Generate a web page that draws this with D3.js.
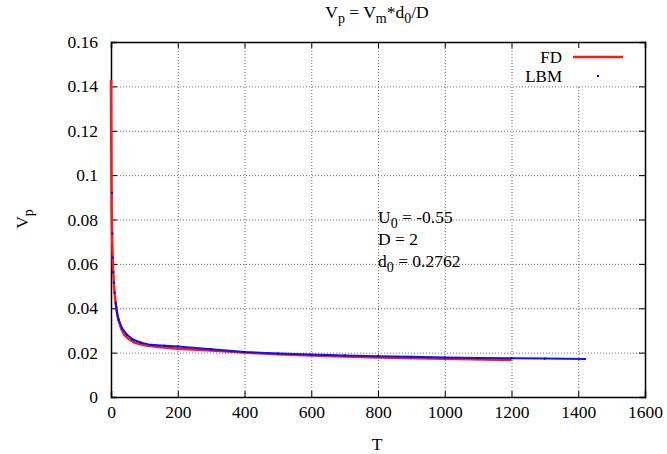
<!DOCTYPE html>
<html>
<head>
<meta charset="utf-8">
<script src="https://cdn.jsdelivr.net/npm/d3@7"></script>
<style>
  body { margin: 0; background: #fff; }
  svg { font-family: "Liberation Serif", "Times New Roman", serif; }
  .tick text { font-family: "Liberation Serif", "Times New Roman", serif; font-size: 17.5px; fill: #000; }
  .grid line { stroke: #666; stroke-dasharray: 1,2; }
  .grid .domain { display: none; }
</style>
</head>
<body>
<div id="chart"></div>
<script>
// FD (finite difference) series
const fdT = [0, 1, 2, 4, 6, 10, 15, 20, 30, 40, 50, 70, 100, 150, 200, 300, 400, 500, 600, 800, 1000, 1200];
const fdV = [0.143, 0.11, 0.085, 0.068, 0.058, 0.048, 0.041, 0.036, 0.031, 0.028, 0.0265, 0.0245, 0.0233, 0.0224, 0.0218, 0.021, 0.02, 0.0193, 0.0187, 0.0178, 0.0172, 0.0167];

// LBM series
const lbmT = [3, 4, 5, 7, 9, 11, 14, 18, 23, 33, 48, 67, 90, 118, 160, 200, 300, 400, 500, 600, 700, 800, 900, 1000, 1100, 1200, 1300, 1420];
const lbmV = [0.092, 0.0737, 0.0628, 0.0562, 0.0515, 0.047, 0.0425, 0.038, 0.0348, 0.031, 0.028, 0.0258, 0.0245, 0.0235, 0.0231, 0.0228, 0.0215, 0.0203, 0.0196, 0.0191, 0.0187, 0.0184, 0.0181, 0.0178, 0.0176, 0.0175, 0.0173, 0.0171];

const xTicks = [0, 200, 400, 600, 800, 1000, 1200, 1400, 1600];
const yTicks = [0, 0.02, 0.04, 0.06, 0.08, 0.1, 0.12, 0.14, 0.16];

const W = 667, H = 454;
const mLeft = 111, mRight = 645, mTop = 42, mBottom = 397;
const w = mRight - mLeft, h = mBottom - mTop;
const fs = 17.5, subFs = 14;

const svg = d3.select('#chart').append('svg')
  .attr('width', W)
  .attr('height', H);

const x = d3.scaleLinear().domain([0, 1600]).range([0, w]);
const y = d3.scaleLinear().domain([0, 0.16]).range([h, 0]);

const g = svg.append('g').attr('transform', 'translate(' + mLeft + ',' + mTop + ')');

// grid
g.append('g').attr('class', 'grid')
  .attr('transform', 'translate(0,' + h + ')')
  .call(d3.axisBottom(x).tickValues(xTicks.slice(1, -1)).tickSize(-h).tickFormat(''));
g.append('g').attr('class', 'grid')
  .call(d3.axisLeft(y).tickValues(yTicks.slice(1, -1)).tickSize(-w).tickFormat(''));

// legend background hides grid
g.append('rect')
  .attr('x', 525 - mLeft).attr('y', 1)
  .attr('width', mRight - 525 - 1).attr('height', 84 - mTop)
  .attr('fill', '#fff');

// axes, ticks pointing inwards, mirrored
const fmtY = d => d === 0 ? '0' : String(+d.toFixed(2));
g.append('g').attr('class', 'axis').attr('transform', 'translate(0,' + h + ')')
  .call(d3.axisBottom(x).tickValues(xTicks).tickSize(-6).tickPadding(9).tickFormat(d3.format('d')));
g.append('g').attr('class', 'axis')
  .call(d3.axisLeft(y).tickValues(yTicks).tickSize(-6).tickPadding(13).tickFormat(fmtY));
g.append('g').attr('class', 'axis')
  .call(d3.axisTop(x).tickValues(xTicks).tickSize(-6).tickFormat(''));
g.append('g').attr('class', 'axis').attr('transform', 'translate(' + w + ',0)')
  .call(d3.axisRight(y).tickValues(yTicks).tickSize(-6).tickFormat(''));

g.selectAll('.axis .domain').attr('stroke', '#000').attr('stroke-width', 1.5);
g.selectAll('.axis .tick line').attr('stroke', '#000');

// curves
const fd = fdT.map((t, i) => ({t: t, v: fdV[i]}));
const lbm = lbmT.map((t, i) => ({t: t, v: lbmV[i]}));

const line = d3.line().x(d => x(d.t)).y(d => y(d.v));

g.append('path')
  .datum(fd)
  .attr('d', line)
  .attr('fill', 'none')
  .attr('stroke', '#ff1a1a')
  .attr('stroke-width', 2.5)
  .attr('stroke-linejoin', 'round');

g.append('path')
  .datum(lbm.filter(d => d.t >= 14))
  .attr('d', line)
  .attr('fill', 'none')
  .attr('stroke', '#1010ff')
  .attr('stroke-width', 2);

g.selectAll('.dot')
  .data(lbm)
  .enter()
  .append('rect')
  .attr('class', 'dot')
  .attr('x', d => x(d.t) - 1)
  .attr('y', d => y(d.v) - 1)
  .attr('width', 2)
  .attr('height', 2)
  .attr('fill', '#0000ff');

// legend
svg.append('text').attr('x', 562).attr('y', 63).attr('text-anchor', 'end')
  .attr('font-size', 17).text('FD');
svg.append('line').attr('x1', 573).attr('x2', 623).attr('y1', 57).attr('y2', 57)
  .attr('stroke', '#ff1a1a').attr('stroke-width', 2.5);
svg.append('text').attr('x', 562).attr('y', 82).attr('text-anchor', 'end')
  .attr('font-size', 17).text('LBM');
svg.append('rect').attr('x', 597).attr('y', 75).attr('width', 2).attr('height', 2)
  .attr('fill', '#0000ff');

// text with subscripts: parts alternate normal, sub, normal, ...
function richText(sel, parts) {
  parts.forEach(function(p, i) {
    const sub = i % 2 === 1;
    const ts = sel.append('tspan').text(p);
    if (sub) ts.attr('font-size', subFs).attr('dy', 4.5);
    else if (i > 0) ts.attr('dy', -4.5);
  });
  return sel;
}

// title
richText(svg.append('text').attr('x', 377).attr('y', 18)
  .attr('text-anchor', 'middle').attr('font-size', fs),
  ['V', 'p', ' = V', 'm', '*d', '0', '/D']);

// axis labels
svg.append('text').attr('x', 377).attr('y', 450).attr('text-anchor', 'middle')
  .attr('font-size', fs).text('T');
richText(svg.append('text').attr('transform', 'translate(28,219) rotate(-90)')
  .attr('text-anchor', 'middle').attr('font-size', fs),
  ['V', 'p']);

// annotation
const notes = [['U', '0', ' = -0.55'], ['D = 2'], ['d', '0', ' = 0.2762']];
const noteY = [223, 245, 267];
notes.forEach(function(n, i) {
  richText(svg.append('text').attr('x', 378).attr('y', noteY[i]).attr('font-size', fs), n);
});
</script>
</body>
</html>
